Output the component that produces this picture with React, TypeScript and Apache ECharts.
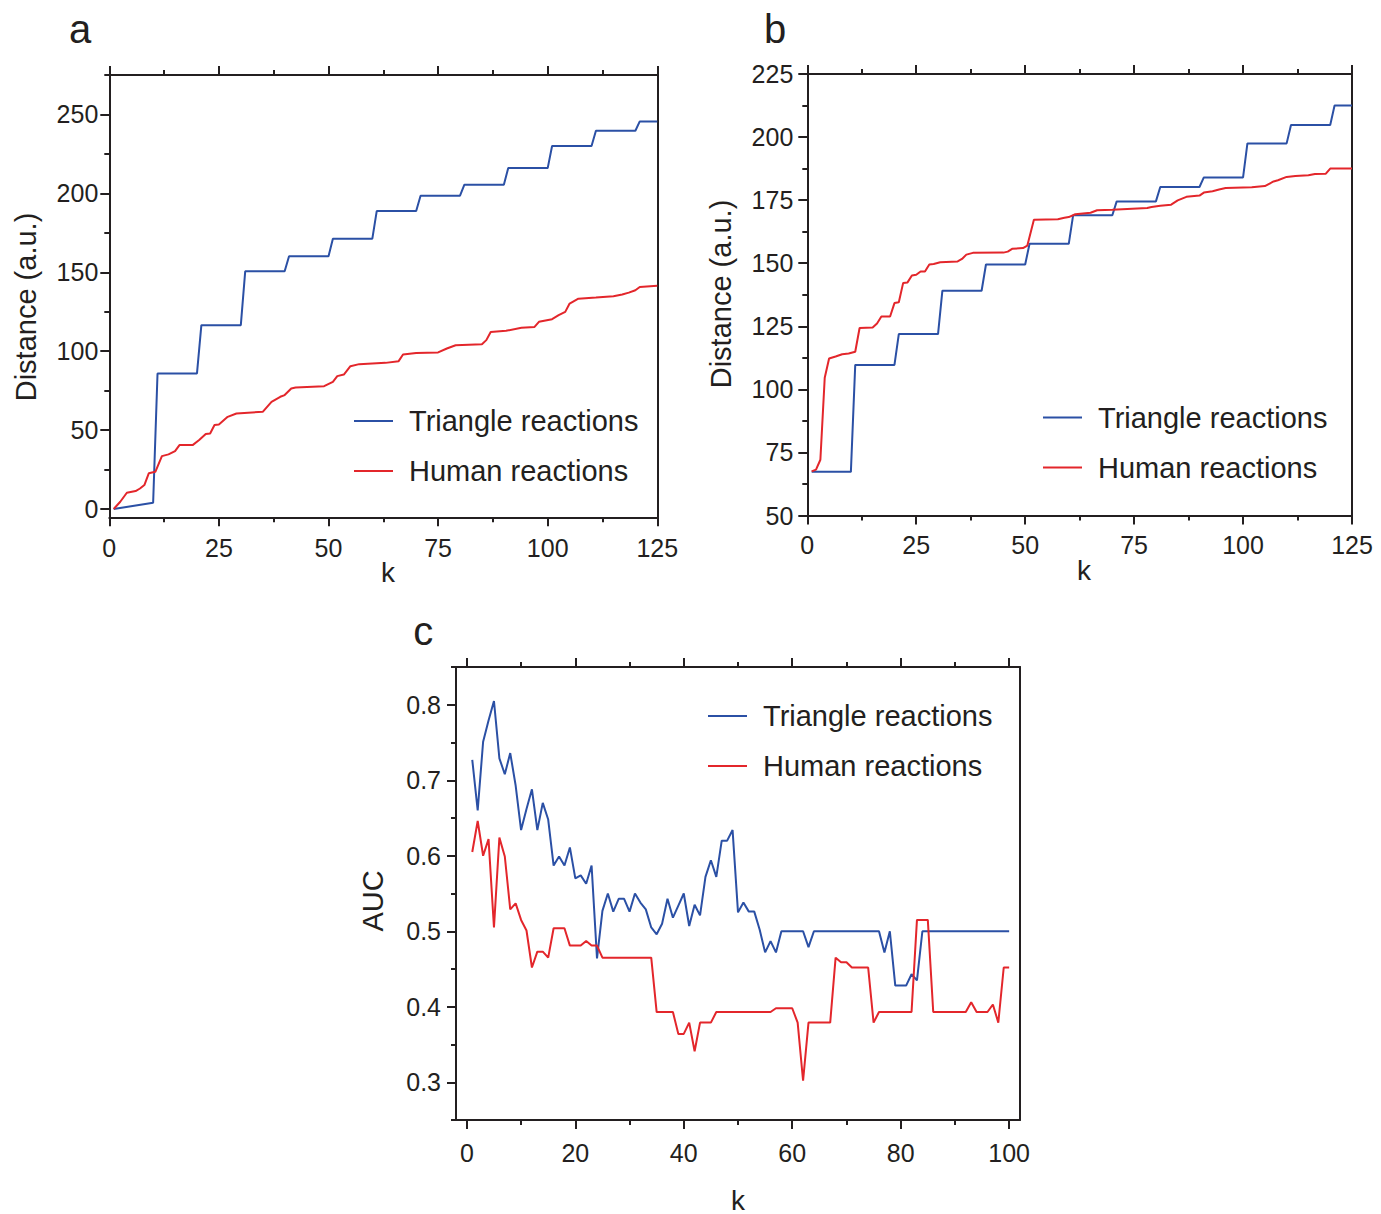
import React, { useEffect, useRef } from "react";
import * as echarts from "echarts";

const FONT = '"Liberation Sans", Arial, Helvetica, sans-serif';
const TXT = "#231f20";
const BLUE = "#2b50a5";
const RED = "#e3262b";

const SERIES_NAMES = ["Triangle reactions", "Human reactions"];

// Panel a: [k, distance]
const aTriangle: [number, number][] = [
  [1, 0], [10, 4], [11, 85.9], [20, 85.9], [21, 116.5], [30, 116.5], [31, 150.6], [40, 150.6],
  [41, 160.1], [50, 160.1], [51, 171.3], [60, 171.3], [61, 188.8], [70, 188.8], [71, 198.5],
  [80, 198.5], [81, 205.5], [90, 205.5], [91, 216], [100, 216], [101, 230], [110, 230],
  [111, 239.7], [120, 239.7], [121, 245.6], [125, 245.6],
];
const aHuman: [number, number][] = [
  [1, 0], [2.5, 4.6], [4, 10.3], [6, 11.4], [7, 13], [8, 15.2], [9, 22.6], [10.5, 23.6],
  [12, 33.5], [13.5, 34.6], [15, 36.7], [16, 40.5], [19, 40.5], [20.5, 43.7], [22, 47.5],
  [23, 47.9], [24, 53.2], [25, 53.6], [27, 58.4], [29, 60.5], [35, 61.6], [37, 67.9],
  [39, 71.1], [40, 72.2], [41.5, 76.4], [42.5, 77], [49, 77.8], [51, 80.6], [52, 84.2],
  [53.5, 85.2], [55, 90.5], [57, 91.8], [63, 92.6], [66, 93.7], [67, 97.9], [70, 98.9],
  [75, 99.2], [77, 101.7], [79, 103.8], [85, 104.4], [86, 107], [87, 112.2], [90.5, 112.9],
  [94, 114.8], [97, 115.4], [98, 118.6], [101, 120.3], [102.5, 122.8], [104, 124.9],
  [105, 130.2], [107, 133.3], [111, 134], [115, 134.8], [117, 135.9], [118.5, 137.1],
  [120, 138.6], [121, 140.7], [125, 141.4],
];

// Panel b: [k, distance]
const bTriangle: [number, number][] = [
  [1, 67.3], [10, 67.3], [11, 109.7], [20, 109.7], [21, 121.9], [30, 121.9], [31, 139.1],
  [40, 139.1], [41, 149.5], [50, 149.5], [51, 157.7], [60, 157.7], [61, 169], [70, 169],
  [71, 174.5], [80, 174.5], [81, 180.2], [90, 180.2], [91, 184], [100, 184], [101, 197.5],
  [110, 197.5], [111, 204.8], [120, 204.8], [121, 212.5], [125, 212.5],
];
const bHuman: [number, number][] = [
  [1, 67.5], [2, 68.2], [3, 72.1], [4, 104.6], [5, 112.2], [6.5, 113], [8, 113.9],
  [9.5, 114.2], [11, 114.9], [12, 124.3], [15, 124.5], [16, 126.1], [17, 128.9], [19, 128.9],
  [20, 134.2], [21, 134.5], [22, 142.2], [23, 142.4], [24, 145.1], [25, 145.4], [26, 146.7],
  [27, 146.7], [28, 149.5], [29, 149.7], [30.5, 150.4], [34.5, 150.7], [35.5, 151.7],
  [36.5, 153.4], [38, 154.1], [45, 154.2], [46, 154.6], [47, 155.7], [49.5, 156],
  [50.5, 157], [52, 167.2], [57.5, 167.4], [59, 168], [60, 168.3], [61.5, 169.4], [65, 170],
  [66.5, 171], [70, 171.2], [78, 171.9], [79, 172.3], [81, 172.8], [83.5, 173.2], [85, 174.9],
  [87, 176.3], [90, 176.8], [91, 178], [93, 178.5], [94.5, 179.2], [96, 179.8], [102, 180.1],
  [105, 180.6], [107, 182.4], [108, 182.9], [110, 184.2], [112, 184.6], [115, 184.9],
  [116.5, 185.4], [119, 185.5], [120, 187.5], [125, 187.5],
];

// Panel c: AUC for k = 1..100
const cTriangle: number[] = [
  0.727, 0.660, 0.751, 0.779, 0.805, 0.729, 0.708, 0.736, 0.693, 0.634,
  0.662, 0.688, 0.634, 0.670, 0.648, 0.587, 0.599, 0.587, 0.611, 0.570,
  0.574, 0.563, 0.587, 0.464, 0.527, 0.550, 0.526, 0.543, 0.543, 0.526,
  0.550, 0.538, 0.529, 0.505, 0.496, 0.510, 0.543, 0.518, 0.534, 0.550,
  0.507, 0.535, 0.521, 0.572, 0.594, 0.572, 0.620, 0.620, 0.634, 0.525,
  0.538, 0.526, 0.526, 0.502, 0.472, 0.487, 0.472, 0.500, 0.500, 0.500,
  0.500, 0.500, 0.479, 0.500, 0.500, 0.500, 0.500, 0.500, 0.500, 0.500,
  0.500, 0.500, 0.500, 0.500, 0.500, 0.500, 0.472, 0.500, 0.428, 0.428,
  0.428, 0.443, 0.435, 0.500, 0.500, 0.500, 0.500, 0.500, 0.500, 0.500,
  0.500, 0.500, 0.500, 0.500, 0.500, 0.500, 0.500, 0.500, 0.500, 0.500,
];
const cHuman: number[] = [
  0.605, 0.646, 0.600, 0.622, 0.505, 0.624, 0.599, 0.529, 0.537, 0.515,
  0.501, 0.452, 0.473, 0.473, 0.465, 0.504, 0.504, 0.504, 0.481, 0.481,
  0.481, 0.487, 0.481, 0.481, 0.465, 0.465, 0.465, 0.465, 0.465, 0.465,
  0.465, 0.465, 0.465, 0.465, 0.393, 0.393, 0.393, 0.393, 0.364, 0.364,
  0.379, 0.341, 0.379, 0.379, 0.379, 0.393, 0.393, 0.393, 0.393, 0.393,
  0.393, 0.393, 0.393, 0.393, 0.393, 0.393, 0.398, 0.398, 0.398, 0.398,
  0.379, 0.302, 0.379, 0.379, 0.379, 0.379, 0.379, 0.465, 0.459, 0.459,
  0.452, 0.452, 0.452, 0.452, 0.379, 0.393, 0.393, 0.393, 0.393, 0.393,
  0.393, 0.393, 0.515, 0.515, 0.515, 0.393, 0.393, 0.393, 0.393, 0.393,
  0.393, 0.393, 0.406, 0.393, 0.393, 0.393, 0.403, 0.379, 0.452, 0.452,
];

// Tick values
const aXMajor = [0, 25, 50, 75, 100, 125];
const aXMinor = [12.5, 37.5, 62.5, 87.5, 112.5];
const aYMajor = [0, 50, 100, 150, 200, 250];
const aYMinor = [25, 75, 125, 175, 225, 275];
const bXMajor = [0, 25, 50, 75, 100, 125];
const bXMinor = [12.5, 37.5, 62.5, 87.5, 112.5];
const bYMajor = [50, 75, 100, 125, 150, 175, 200, 225];
const bYMinor = [62.5, 87.5, 112.5, 137.5, 162.5, 187.5, 212.5];
const cXMajor = [0, 20, 40, 60, 80, 100];
const cXMinor = [10, 30, 50, 70, 90];
const cYMajor = [0.3, 0.4, 0.5, 0.6, 0.7, 0.8];
const cYMinor = [0.25, 0.35, 0.45, 0.55, 0.65, 0.75, 0.85];

const TICK_FONT = 25;
const lineS = { color: TXT, width: 2 };

function xAxes(g: number, min: number, max: number, major: number[], minor: number[], margin: number) {
  const base = { type: "value", gridIndex: g, min, max, splitLine: { show: false } };
  return [
    {
      ...base, position: "bottom",
      axisLine: { show: true, onZero: false, lineStyle: lineS },
      axisTick: { show: true, customValues: major, length: 9, lineStyle: lineS },
      axisLabel: { show: true, customValues: major, margin, fontSize: TICK_FONT, color: TXT, fontFamily: FONT },
    },
    {
      ...base, position: "bottom",
      axisLine: { show: false, onZero: false },
      axisTick: { show: true, customValues: minor, length: 5, lineStyle: lineS },
      axisLabel: { show: false },
    },
    {
      ...base, position: "top",
      axisLine: { show: true, onZero: false, lineStyle: lineS },
      axisTick: { show: true, customValues: major, length: 9, lineStyle: lineS },
      axisLabel: { show: false },
    },
    {
      ...base, position: "top",
      axisLine: { show: false, onZero: false },
      axisTick: { show: true, customValues: minor, length: 5, lineStyle: lineS },
      axisLabel: { show: false },
    },
  ];
}

function yAxes(g: number, min: number, max: number, major: number[], minor: number[], margin: number) {
  const base = { type: "value", gridIndex: g, min, max, splitLine: { show: false } };
  return [
    {
      ...base, position: "left",
      axisLine: { show: true, onZero: false, lineStyle: lineS },
      axisTick: { show: true, customValues: major, length: 9, lineStyle: lineS },
      axisLabel: { show: true, customValues: major, margin, fontSize: TICK_FONT, color: TXT, fontFamily: FONT },
    },
    {
      ...base, position: "left",
      axisLine: { show: false, onZero: false },
      axisTick: { show: true, customValues: minor, length: 5, lineStyle: lineS },
      axisLabel: { show: false },
    },
    {
      ...base, position: "right",
      axisLine: { show: true, onZero: false, lineStyle: lineS },
      axisTick: { show: false },
      axisLabel: { show: false },
    },
  ];
}

function legendAt(left: number, centerFirst: number) {
  return {
    orient: "vertical",
    left,
    top: centerFirst - 15,
    padding: 0,
    data: SERIES_NAMES,
    icon: "rect",
    itemWidth: 39,
    itemHeight: 2,
    itemGap: 20,
    selectedMode: false,
    textStyle: { fontSize: 29, color: TXT, fontFamily: FONT, lineHeight: 30, padding: [0, 0, 0, 11] },
  };
}

function label(text: string, x: number, y: number, size: number, rot = 0) {
  return {
    type: "text",
    x,
    y,
    rotation: rot,
    style: { text, fontSize: size, fontFamily: FONT, fill: TXT, align: "center", verticalAlign: "middle" },
  };
}

function lineSeries(name: string, color: string, xi: number, yi: number, data: any[]) {
  return {
    type: "line",
    name,
    xAxisIndex: xi,
    yAxisIndex: yi,
    data,
    showSymbol: false,
    symbol: "none",
    lineStyle: { color, width: 2 },
    itemStyle: { color },
    emphasis: { disabled: true },
  };
}

export default function App() {
  const ref = useRef<HTMLDivElement>(null);
  useEffect(() => {
    if (!ref.current) return;
    const chart = echarts.init(ref.current, undefined, { renderer: "svg" });
    const cTri = cTriangle.map((v, i) => [i + 1, v]);
    const cHum = cHuman.map((v, i) => [i + 1, v]);
    chart.setOption({
      animation: false,
      backgroundColor: "#ffffff",
      grid: [
        { left: 109.3, top: 75, width: 548, height: 442.3 },
        { left: 807.3, top: 74, width: 544.7, height: 441.5 },
        { left: 456, top: 667, width: 564, height: 453 },
      ],
      xAxis: [
        ...xAxes(0, 0, 125, aXMajor, aXMinor, 18),
        ...xAxes(1, 0, 125, bXMajor, bXMinor, 17),
        ...xAxes(2, -2, 102, cXMajor, cXMinor, 20),
      ],
      yAxis: [
        ...yAxes(0, -5.25, 275, aYMajor, aYMinor, 11),
        ...yAxes(1, 50, 225, bYMajor, bYMinor, 14),
        ...yAxes(2, 0.25, 0.85, cYMajor, cYMinor, 15),
      ],
      legend: [legendAt(354, 421), legendAt(1043, 417.5), legendAt(708, 716)],
      series: [
        lineSeries(SERIES_NAMES[0], BLUE, 0, 0, aTriangle),
        lineSeries(SERIES_NAMES[1], RED, 0, 0, aHuman),
        lineSeries(SERIES_NAMES[0], BLUE, 4, 3, bTriangle),
        lineSeries(SERIES_NAMES[1], RED, 4, 3, bHuman),
        lineSeries(SERIES_NAMES[0], BLUE, 8, 6, cTri),
        lineSeries(SERIES_NAMES[1], RED, 8, 6, cHum),
      ],
      graphic: [
        label("a", 80, 29.4, 40),
        label("b", 775, 29.4, 40),
        label("c", 423.3, 631, 40),
        label("k", 388, 572, 28),
        label("k", 1084, 570, 28),
        label("k", 738, 1200, 28),
        label("Distance (a.u.)", 26, 307, 29, Math.PI / 2),
        label("Distance (a.u.)", 721, 294, 29, Math.PI / 2),
        label("AUC", 373, 901, 29, Math.PI / 2),
      ],
    });
    return () => chart.dispose();
  }, []);
  return <div ref={ref} style={{ position: "absolute", left: 0, top: 0, width: 1381, height: 1214 }} />;
}
